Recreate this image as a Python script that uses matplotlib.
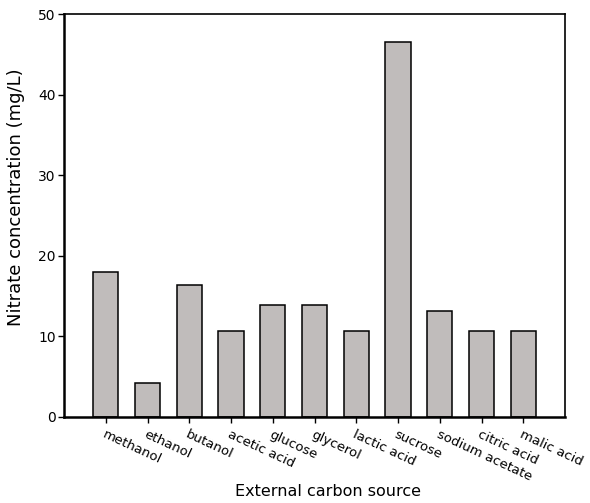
import numpy as np
import matplotlib
matplotlib.use("Agg")
import matplotlib.pyplot as plt

sources = ["methanol", "ethanol", "butanol", "acetic acid", "glucose", "glycerol",
           "lactic acid", "sucrose", "sodium acetate", "citric acid", "malic acid"]
nitrate = [18.0, 4.2, 16.4, 10.7, 13.9, 13.9, 10.7, 46.5, 13.2, 10.7, 10.7]

fig = plt.figure(figsize=(5.9, 5.03), dpi=100)
ax = fig.add_axes([64 / 590, 1 - 417 / 503, (565 - 64) / 590, (417 - 14) / 503])

x = np.arange(len(sources))
ax.bar(x, nitrate, width=0.6, color="#c0bcbb", edgecolor="black", linewidth=1.1, zorder=2)

ax.set_xlim(-1, len(sources))
ax.set_ylim(0, 50)
ax.set_yticks([0, 10, 20, 30, 40, 50])
ax.set_xticks(x)
ax.set_xticklabels(sources, rotation=-25, ha="left", va="top",
                   rotation_mode="anchor", fontsize=9.5)

ax.tick_params(axis="both", direction="out", length=4, width=1)
ax.tick_params(axis="y", labelsize=10, pad=2)
ax.tick_params(axis="x", pad=4)
for side in ["left", "bottom"]:
    ax.spines[side].set_linewidth(1.8)
for side in ["top", "right"]:
    ax.spines[side].set_linewidth(1.2)

ax.set_ylabel("Nitrate concentration (mg/L)", fontsize=13, va="center")
ax.yaxis.set_label_coords(-0.096, 0.546)
ax.set_xlabel("External carbon source", fontsize=11.5, va="top")
ax.xaxis.set_label_coords(0.527, -0.166)

fig.savefig("out.png", dpi=100)
